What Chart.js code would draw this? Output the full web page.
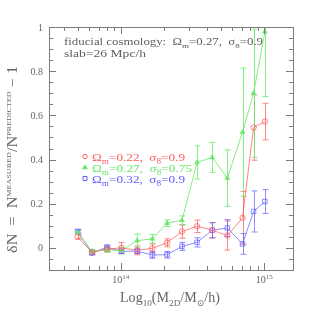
<!DOCTYPE html>
<html>
<head>
<meta charset="utf-8">
<script src="https://cdn.jsdelivr.net/npm/chart.js@4.4.0/dist/chart.umd.min.js"></script>
<style>
html, body { margin: 0; padding: 0; background: #fff; overflow: hidden; }
canvas { display: block; }
</style>
</head>
<body>
<canvas id="c" width="319" height="319" style="width:319px;height:319px"></canvas>
<script>
'use strict';
// masses (M_sun/h) of the bins
const masses = [5e13, 6.3e13, 8e13, 1.01e14, 1.3e14, 1.66e14, 2.1e14, 2.67e14, 3.4e14, 4.34e14, 5.53e14, 7.05e14, 8.42e14, 1.01e15];

const redY = [0.05, -0.02, -0.005, 0.0, -0.011, -0.002, 0.023, 0.074, 0.098, 0.08, 0.056, 0.136, 0.545, 0.572];
const redErr = [0.01, 0.008, 0.012, 0.024, 0.02, 0.02, 0.018, 0.03, 0.028, 0.035, 0.066, 0.12, 0.148, 0.083];
const greenY = [0.07, -0.015, -0.01, -0.012, 0.033, 0.041, 0.112, 0.125, 0.387, 0.41, 0.316, 0.524, 0.70, 0.979];
const greenErr = [0.008, 0.008, 0.01, 0.015, 0.03, 0.02, 0.015, 0.02, 0.075, 0.068, 0.128, 0.29, 0.29, 0.294];
const blueY = [0.075, -0.023, 0.003, -0.015, -0.015, -0.032, -0.031, 0.007, 0.025, 0.08, 0.09, 0.018, 0.165, 0.21];
const blueErr = [0.008, 0.008, 0.01, 0.01, 0.01, 0.015, 0.015, 0.018, 0.021, 0.034, 0.038, 0.047, 0.093, 0.054];

const yTicks = [0, 0.2, 0.4, 0.6, 0.8, 1];
const yTickLabels = ['0', '0.2', '0.4', '0.6', '0.8', '1'];
const xMajorTicks = [1e14, 1e15];
const xTickExps = ['14', '15'];

const RED = '#ff5c5c', GREEN = '#66e866', BLUE = '#5c5cff';
const RED_L = 'rgba(255,92,92,0.75)', GREEN_L = 'rgba(102,232,102,0.8)', BLUE_L = 'rgba(92,92,255,0.7)';
const AXIS = '#7c7c7c', TEXT = '#666666';
const FAM = '"Liberation Serif", "DejaVu Serif", serif';

const pts = ys => masses.map((m, i) => ({ x: m, y: ys[i] }));
const errs = [redErr, greenErr, blueErr];

function richWidth(ctx, parts, size) {
    let w = 0;
    for (const p of parts) {
        ctx.font = (size * (p[1] || 1)) + 'px ' + FAM;
        w += ctx.measureText(p[0]).width;
    }
    return w;
}

function drawRich(ctx, x, y, parts, size, color, width) {
    const nat = richWidth(ctx, parts, size);
    const k = width ? width / nat : 1;
    ctx.save();
    ctx.translate(x, y);
    ctx.scale(k, 1);
    ctx.fillStyle = color;
    ctx.textAlign = 'left';
    ctx.textBaseline = 'alphabetic';
    let cx = 0;
    for (const p of parts) {
        ctx.font = (size * (p[1] || 1)) + 'px ' + FAM;
        ctx.fillText(p[0], cx, (p[2] || 0) * size);
        cx += ctx.measureText(p[0]).width;
    }
    ctx.restore();
}

const smAxes = {
    id: 'smAxes',
    beforeDatasetsDraw(chart) {
        const { ctx, chartArea: a, scales: { x, y } } = chart;
        ctx.save();
        ctx.beginPath();
        ctx.rect(a.left, a.top, a.right - a.left, a.bottom - a.top);
        ctx.clip();
        ctx.lineWidth = 1;
        chart.data.datasets.forEach((ds, di) => {
            ctx.strokeStyle = ds.borderColor;
            ds.data.forEach((p, i) => {
                const px = Math.round(x.getPixelForValue(p.x)) + 0.5;
                const y1 = y.getPixelForValue(p.y - errs[di][i]);
                const y2 = y.getPixelForValue(p.y + errs[di][i]);
                ctx.beginPath();
                ctx.moveTo(px, y1); ctx.lineTo(px, y2);
                ctx.moveTo(px - 3, y1); ctx.lineTo(px + 3, y1);
                ctx.moveTo(px - 3, y2); ctx.lineTo(px + 3, y2);
                ctx.stroke();
            });
        });
        ctx.restore();
    },
    afterDraw(chart) {
        const { ctx, chartArea: a, scales: { x, y } } = chart;
        ctx.save();
        ctx.strokeStyle = AXIS;
        ctx.lineWidth = 1;
        ctx.strokeRect(Math.round(a.left) + 0.5, Math.round(a.top) + 0.5,
            Math.round(a.right - a.left), Math.round(a.bottom - a.top));

        ctx.beginPath();
        // y ticks, every 0.05, major every 0.2
        for (let k = -2; k <= 20; k++) {
            const v = k * 0.05;
            const py = Math.round(y.getPixelForValue(v)) + 0.5;
            const len = k % 4 === 0 ? 7 : 4;
            ctx.moveTo(a.left, py); ctx.lineTo(a.left + len, py);
            ctx.moveTo(a.right, py); ctx.lineTo(a.right - len, py);
        }
        // x ticks, log decades
        for (let e = 13; e <= 15; e++) {
            for (let m = 1; m <= 9; m++) {
                const v = m * Math.pow(10, e);
                if (v < x.min || v > x.max) continue;
                const px = Math.round(x.getPixelForValue(v)) + 0.5;
                const len = m === 1 ? 7 : 4;
                ctx.moveTo(px, a.bottom); ctx.lineTo(px, a.bottom - len);
                ctx.moveTo(px, a.top); ctx.lineTo(px, a.top + len);
            }
        }
        ctx.stroke();

        // tick labels
        ctx.fillStyle = TEXT;
        ctx.font = '10px ' + FAM;
        ctx.textAlign = 'right';
        ctx.textBaseline = 'alphabetic';
        yTicks.forEach((v, i) => {
            ctx.fillText(yTickLabels[i], 43, y.getPixelForValue(v) + 3.5);
        });
        xMajorTicks.forEach((v, i) => {
            const parts = [['10'], [xTickExps[i], 0.7, -0.4]];
            const w = richWidth(ctx, parts, 10);
            drawRich(ctx, x.getPixelForValue(v) - w / 2, 283, parts, 10, TEXT);
        });

        // axis titles
        drawRich(ctx, 120, 302, [['Log'], ['10', 0.65, 0.3], ['(M'], ['2D', 0.65, 0.3],
            ['/M'], ['\u2299', 0.65, 0.3], ['/h)']], 14, TEXT, 100);
        ctx.save();
        ctx.translate(17, 253);
        ctx.rotate(-Math.PI / 2);
        drawRich(ctx, 0, 0, [['\u03b4N  =  N'], ['MEASURED', 0.5, -0.4], ['/N'],
            ['PREDICTED', 0.5, -0.4], [' \u2212 1']], 14, TEXT, 187);
        ctx.restore();

        // annotation
        drawRich(ctx, 64, 45, [['fiducial cosmology:  \u03a9'], ['m', 0.7, 0.3], ['=0.27,  \u03c3'],
            ['8', 0.7, 0.3], ['=0.9']], 10, '#606060', 199);
        drawRich(ctx, 64, 57, [['slab=26 Mpc/h']], 10, '#606060', 82);

        // legend
        const rows = [
            { c: RED, s: 'circle', r: 2.2, fill: false, t: '0.22', sg: '0.9', w: 93, b: 160.5 },
            { c: GREEN, s: 'triangle', r: 2.6, fill: true, t: '0.27', sg: '0.75', w: 100, b: 171.5 },
            { c: BLUE, s: 'rect', r: 2.8, fill: false, t: '0.32', sg: '0.9', w: 93, b: 182.5 }
        ];
        rows.forEach(r => {
            ctx.strokeStyle = r.c;
            ctx.fillStyle = r.fill ? r.c : 'rgba(0,0,0,0)';
            ctx.lineWidth = 1;
            Chart.helpers.drawPoint(ctx, { pointStyle: r.s, radius: r.r, borderWidth: 1 }, 85, r.b - 4);
            drawRich(ctx, 92, r.b, [['\u03a9'], ['m', 0.7, 0.3], ['=' + r.t + ',  \u03c3'], ['8', 0.7, 0.3],
                ['=' + r.sg]], 11, r.c, r.w);
        });
        ctx.restore();
    }
};

const base = { showLine: true, borderWidth: 1, pointBorderWidth: 1, tension: 0 };

new Chart(document.getElementById('c'), {
    type: 'scatter',
    data: {
        datasets: [
            Object.assign({ label: 'Ωm=0.22, σ8=0.9', data: pts(redY), borderColor: RED_L,
                pointStyle: 'circle', pointRadius: 2.7, pointBackgroundColor: 'rgba(0,0,0,0)' }, base),
            Object.assign({ label: 'Ωm=0.27, σ8=0.75', data: pts(greenY), borderColor: GREEN_L,
                pointStyle: 'triangle', pointRadius: 2.6, pointBackgroundColor: GREEN_L }, base),
            Object.assign({ label: 'Ωm=0.32, σ8=0.9', data: pts(blueY), borderColor: BLUE_L,
                pointStyle: 'rect', pointRadius: 3.2, pointBackgroundColor: 'rgba(0,0,0,0)' }, base)
        ]
    },
    options: {
        responsive: false,
        animation: false,
        devicePixelRatio: 1,
        layout: { padding: { left: 49, top: 27, right: 26, bottom: 49 } },
        plugins: { legend: { display: false }, tooltip: { enabled: false } },
        scales: {
            x: { type: 'logarithmic', min: Math.pow(10, 13.5), max: Math.pow(10, 15.2), display: false },
            y: { type: 'linear', min: -0.1, max: 1, display: false }
        }
    },
    plugins: [smAxes]
});
</script>
</body>
</html>
